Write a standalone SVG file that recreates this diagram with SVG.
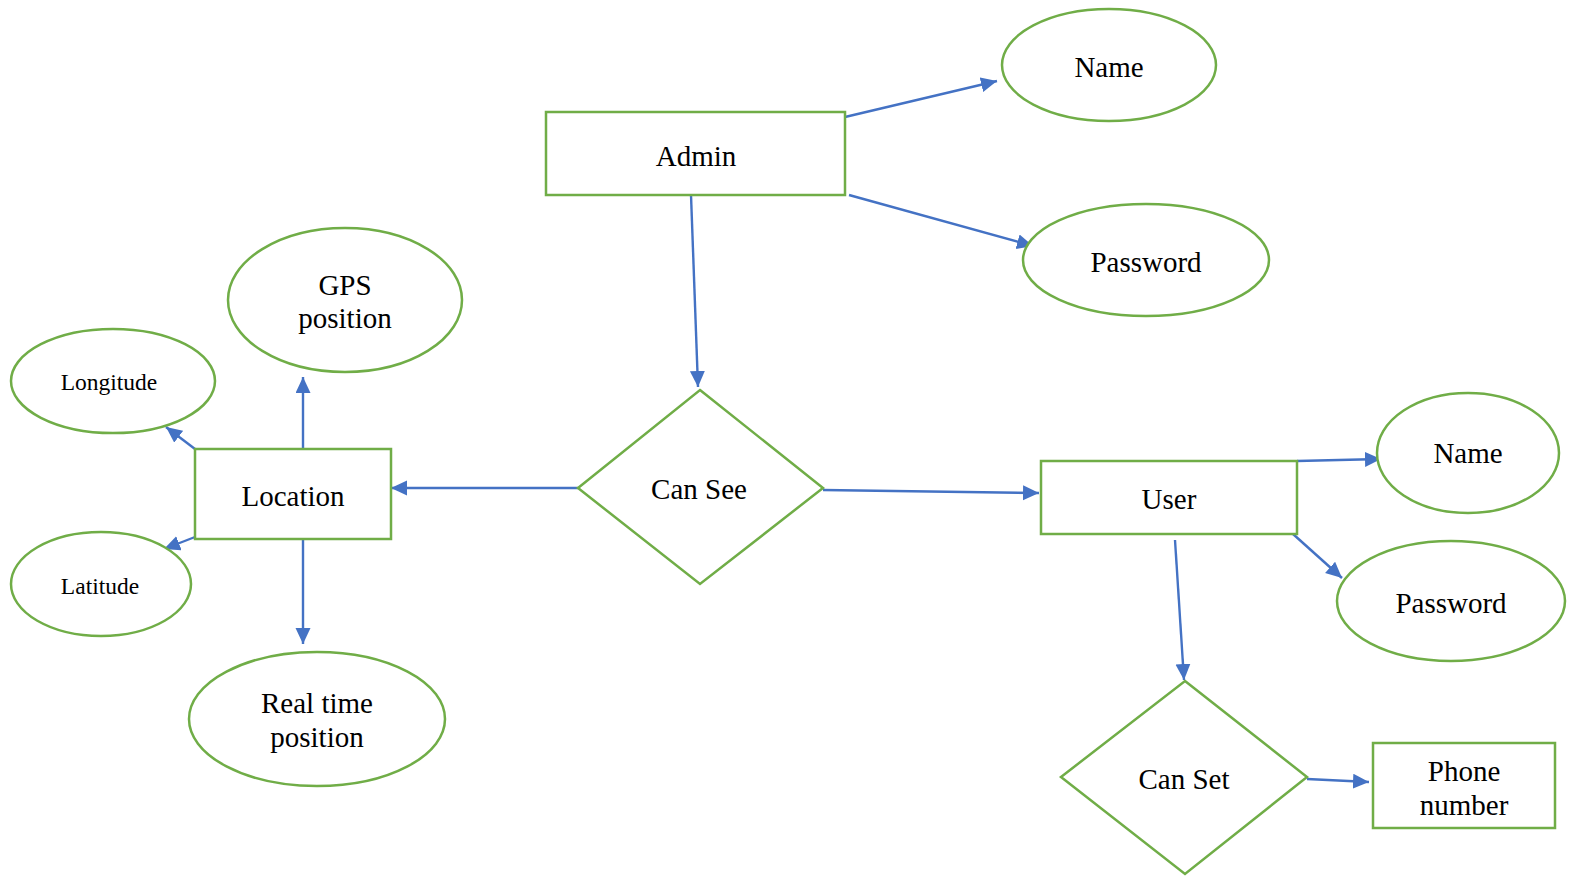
<svg xmlns="http://www.w3.org/2000/svg" width="1577" height="877" viewBox="0 0 1577 877">
<style>
.n{fill:#fff;stroke:#70AD47;stroke-width:2.5}
.t{font-family:"Liberation Serif","Times New Roman",serif;font-size:29px;fill:#000;text-anchor:middle}
.s{font-size:23.5px}
.c{fill:none;stroke:#4472C4;stroke-width:2.4}
</style>
<defs>
<marker id="a" markerUnits="userSpaceOnUse" markerWidth="18" markerHeight="16" refX="16" refY="7.5" orient="auto">
<path d="M0,0 L16,7.5 L0,15 Z" fill="#4472C4"/>
</marker>
</defs>
<rect width="1577" height="877" fill="#fff"/>
<g id="connectors">
<line class="c" x1="845" y1="117" x2="997" y2="81" marker-end="url(#a)"/>
<line class="c" x1="849" y1="195" x2="1033" y2="246" marker-end="url(#a)"/>
<line class="c" x1="691" y1="195" x2="698" y2="387" marker-end="url(#a)"/>
<line class="c" x1="578" y1="488" x2="391" y2="488" marker-end="url(#a)"/>
<line class="c" x1="823" y1="490" x2="1039" y2="493" marker-end="url(#a)"/>
<line class="c" x1="303" y1="449" x2="303" y2="377" marker-end="url(#a)"/>
<line class="c" x1="195" y1="449" x2="166" y2="427" marker-end="url(#a)"/>
<line class="c" x1="195" y1="537" x2="164" y2="549" marker-end="url(#a)"/>
<line class="c" x1="303" y1="539" x2="303" y2="644" marker-end="url(#a)"/>
<line class="c" x1="1297" y1="461" x2="1381" y2="459" marker-end="url(#a)"/>
<line class="c" x1="1293" y1="534" x2="1342" y2="578" marker-end="url(#a)"/>
<line class="c" x1="1175" y1="540" x2="1184" y2="680" marker-end="url(#a)"/>
<line class="c" x1="1307" y1="779" x2="1369" y2="782" marker-end="url(#a)"/>
</g>
<g id="admin"><rect class="n" x="546" y="112" width="299" height="83"/><text class="t" x="696" y="166">Admin</text></g>
<g id="admin-name"><ellipse class="n" cx="1109" cy="65" rx="107" ry="56"/><text class="t" x="1109" y="77">Name</text></g>
<g id="admin-password"><ellipse class="n" cx="1146" cy="260" rx="123" ry="56"/><text class="t" x="1146" y="272">Password</text></g>
<g id="can-see"><polygon class="n" points="700,390 823,488 700,584 578,488"/><text class="t" x="699" y="499">Can See</text></g>
<g id="location"><rect class="n" x="195" y="449" width="196" height="90"/><text class="t" x="293" y="506">Location</text></g>
<g id="gps-position"><ellipse class="n" cx="345" cy="300" rx="117" ry="72"/><text class="t" x="345" y="295">GPS</text><text class="t" x="345" y="328">position</text></g>
<g id="longitude"><ellipse class="n" cx="113" cy="381" rx="102" ry="52"/><text class="t s" x="109" y="390">Longitude</text></g>
<g id="latitude"><ellipse class="n" cx="101" cy="584" rx="90" ry="52"/><text class="t s" x="100" y="594">Latitude</text></g>
<g id="real-time-position"><ellipse class="n" cx="317" cy="719" rx="128" ry="67"/><text class="t" x="317" y="713">Real time</text><text class="t" x="317" y="747">position</text></g>
<g id="user"><rect class="n" x="1041" y="461" width="256" height="73"/><text class="t" x="1169" y="509">User</text></g>
<g id="user-name"><ellipse class="n" cx="1468" cy="453" rx="91" ry="60"/><text class="t" x="1468" y="463">Name</text></g>
<g id="user-password"><ellipse class="n" cx="1451" cy="601" rx="114" ry="60"/><text class="t" x="1451" y="613">Password</text></g>
<g id="can-set"><polygon class="n" points="1185,681 1307,777 1185,874 1061,777"/><text class="t" x="1184" y="789">Can Set</text></g>
<g id="phone-number"><rect class="n" x="1373" y="743" width="182" height="85"/><text class="t" x="1464" y="781">Phone</text><text class="t" x="1464" y="815">number</text></g>
</svg>
